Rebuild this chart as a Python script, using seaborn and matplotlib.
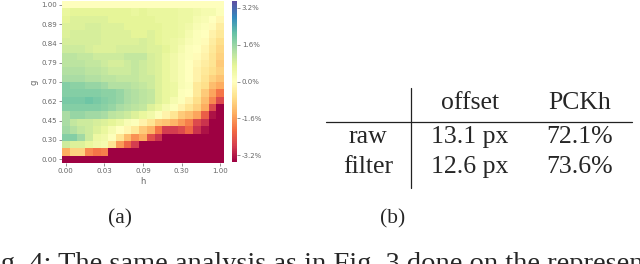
import numpy as np
import matplotlib
matplotlib.use("Agg")
import matplotlib.pyplot as plt
import seaborn as sns
from matplotlib.lines import Line2D

# ---- data -------------------------------------------------------------
h_labels = ["0.00", "0.03", "0.09", "0.30", "1.00"]
g_labels = ["1.00", "0.89", "0.84", "0.79", "0.70", "0.62", "0.45", "0.30", "0.00"]
cbar_ticks = [-3.2, -1.6, 0.0, 1.6, 3.2]

# change in PCKh (%) per (g, h) cell; rows top (g=1) to bottom (g=0)
D = -3.5
delta_pckh = [
    [0.05] * 21,
    [0.6, 0.7, 0.7, 0.7, 0.7, 0.7, 0.7, 0.7, 0.7, 0.6, 0.7, 0.6, 0.6, 0.6, 0.6, 0.5, 0.5, 0.4, 0.3, 0.3, 0.1],
    [0.7, 0.8, 0.8, 0.8, 0.8, 0.8, 0.7, 0.7, 0.7, 0.7, 0.7, 0.7, 0.6, 0.6, 0.6, 0.5, 0.5, 0.3, 0.2, 0.0, -0.2],
    [0.8, 0.8, 0.8, 0.9, 0.9, 0.8, 0.8, 0.8, 0.7, 0.7, 0.7, 0.7, 0.7, 0.6, 0.6, 0.5, 0.4, 0.2, 0.1, -0.1, -0.4],
    [0.8, 0.9, 0.9, 0.9, 0.9, 0.8, 0.8, 0.8, 0.8, 0.7, 0.7, 0.8, 0.7, 0.6, 0.6, 0.5, 0.3, 0.1, 0.0, -0.3, -0.5],
    [0.9, 0.9, 0.9, 0.9, 0.9, 0.8, 0.8, 0.8, 0.8, 0.8, 0.9, 0.8, 0.7, 0.6, 0.5, 0.4, 0.2, 0.1, -0.1, -0.4, -0.7],
    [1.0, 1.0, 1.0, 0.9, 0.8, 0.8, 0.8, 0.9, 0.9, 0.9, 0.9, 0.8, 0.8, 0.7, 0.5, 0.3, 0.1, 0.0, -0.2, -0.5, -0.8],
    [1.2, 1.2, 1.1, 1.1, 1.0, 1.0, 1.0, 1.0, 1.1, 1.1, 1.1, 0.9, 0.8, 0.6, 0.4, 0.2, 0.1, -0.1, -0.3, -0.6, -0.9],
    [1.2, 1.2, 1.2, 1.1, 1.1, 1.0, 0.9, 0.9, 1.0, 1.1, 1.0, 0.9, 0.8, 0.6, 0.4, 0.2, 0.0, -0.2, -0.4, -0.6, -1.0],
    [1.3, 1.3, 1.3, 1.2, 1.2, 1.1, 1.0, 1.0, 1.0, 1.1, 1.0, 0.9, 0.8, 0.6, 0.4, 0.2, 0.0, -0.3, -0.5, -0.7, -0.9],
    [1.4, 1.4, 1.4, 1.3, 1.3, 1.2, 1.2, 1.1, 1.1, 1.1, 1.0, 1.0, 0.8, 0.6, 0.4, 0.2, 0.0, -0.3, -0.6, -0.9, -1.1],
    [1.8, 1.7, 1.7, 1.6, 1.6, 1.5, 1.3, 1.3, 1.3, 1.2, 1.1, 1.0, 0.8, 0.6, 0.5, 0.2, 0.1, -0.5, -0.7, -1.2, -1.4],
    [1.8, 1.8, 1.8, 1.8, 1.8, 1.7, 1.7, 1.6, 1.4, 1.3, 1.2, 1.1, 0.8, 0.6, 0.5, 0.1, 0.0, -0.5, -1.0, -1.5, -2.0],
    [1.9, 1.9, 1.9, 2.0, 1.9, 1.8, 1.7, 1.6, 1.4, 1.3, 1.2, 1.1, 0.8, 0.6, 0.3, 0.1, -0.3, -0.7, -1.2, -1.8, -2.6],
    [1.8, 1.8, 1.8, 1.8, 1.8, 1.7, 1.6, 1.4, 1.3, 1.2, 1.1, 0.8, 0.6, 0.3, 0.1, -0.3, -0.6, -0.9, -1.4, -2.6, D],
    [1.4, 1.6, 1.6, 1.5, 1.5, 1.4, 1.2, 1.1, 1.0, 0.8, 0.6, 0.4, 0.1, -0.3, -0.6, -1.0, -1.2, -1.5, -2.3, -3.3, D],
    [1.4, 1.1, 1.0, 1.0, 0.9, 0.8, 0.7, 0.5, 0.2, 0.1, -0.3, -0.6, -1.0, -1.1, -1.3, -1.6, -1.9, -2.6, -2.9, D, D],
    [1.5, 1.3, 1.1, 1.0, 0.8, 0.6, 0.3, 0.0, -0.2, -0.5, -1.0, -1.3, -2.0, -2.8, -2.8, -2.6, -2.2, -2.9, -3.3, D, D],
    [1.8, 1.8, 1.5, 1.0, 0.5, 0.4, 0.1, -0.6, -1.2, -1.7, -1.4, -2.5, -2.9, D, D, D, D, D, D, D, D],
    [1.0, 0.8, 0.8, 0.6, 0.4, 0.3, -0.6, -1.6, -2.2, -2.8, D, D, D, D, D, D, D, D, D, D, D],
    [-1.4, -0.9, -0.9, -1.8, -2.0, -1.9, D, D, D, D, D, D, D, D, D, D, D, D, D, D, D],
    [D] * 21,
]

row_names = ["raw", "filter"]
col_names = ["offset", "PCKh"]
offset_vals = ["13.1 px", "12.6 px"]
pckh_vals = ["72.1%", "73.6%"]

# ---- figure -----------------------------------------------------------
sns.set_style("ticks")
plt.rcParams["font.family"] = ["DejaVu Sans"]

W, H = 640, 264
fig = plt.figure(figsize=(W / 100, H / 100), dpi=100)

def fx(px):
    return px / W

def fy(px):
    return 1 - px / H

ax = fig.add_axes([fx(62), fy(163), fx(224) - fx(62), fy(1) - fy(163)])
cax = fig.add_axes([fx(232), fy(162), fx(5), fy(1) - fy(162)])

sns.heatmap(np.array(delta_pckh), cmap="Spectral", vmin=-3.5, vmax=3.5,
            ax=ax, cbar_ax=cax, xticklabels=False, yticklabels=False)

grey = "#666666"
ax.set_xticks(np.arange(0, 21, 5) + 0.5)
ax.set_xticklabels(h_labels)
ax.set_yticks(np.linspace(0, 21, 9) + 0.5)
ax.set_yticklabels(g_labels, rotation=0)
ax.tick_params(axis="both", labelsize=5, colors=grey, length=2, width=0.5, pad=1.5)
ax.set_xlabel("h", fontsize=6, color=grey, labelpad=2)
ax.set_ylabel("g", fontsize=6, color=grey, labelpad=2)

cax.set_yticks(cbar_ticks)
cax.set_yticklabels([f"{t:.1f}%" for t in cbar_ticks])
cax.tick_params(labelsize=5, colors=grey, length=2, width=0.5, pad=1.5)
for s in cax.spines.values():
    s.set_visible(False)

# ---- table (b) --------------------------------------------------------
serif = ["Liberation Serif", "DejaVu Serif"]
fs_tab = 18.5
col_x = [470, 580]
for name, x in zip(col_names, col_x):
    fig.text(fx(x), fy(103), name, ha="center", va="center", fontsize=fs_tab, family=serif)
row_y = [137, 167]
for i, y in enumerate(row_y):
    fig.text(fx(368), fy(y), row_names[i], ha="center", va="center", fontsize=fs_tab, family=serif)
    fig.text(fx(col_x[0]), fy(y), offset_vals[i], ha="center", va="center", fontsize=fs_tab, family=serif)
    fig.text(fx(col_x[1]), fy(y), pckh_vals[i], ha="center", va="center", fontsize=fs_tab, family=serif)

fig.add_artist(Line2D([fx(411), fx(411)], [fy(88), fy(188)], color="#222222", lw=0.9))
fig.add_artist(Line2D([fx(326), fx(632)], [fy(122), fy(122)], color="#222222", lw=0.9))

# ---- sub-captions and caption -----------------------------------------
fig.text(fx(120), fy(219), "(a)", ha="center", va="center", fontsize=15.5, family=serif)
fig.text(fx(393), fy(219), "(b)", ha="center", va="center", fontsize=15.5, family=serif)
fig.text(fx(-23), fy(252), "Fig. 4: The same analysis as in Fig. 3 done on the representation",
         ha="left", va="top", fontsize=20.5, family=serif)

fig.savefig("out.png", dpi=100)
